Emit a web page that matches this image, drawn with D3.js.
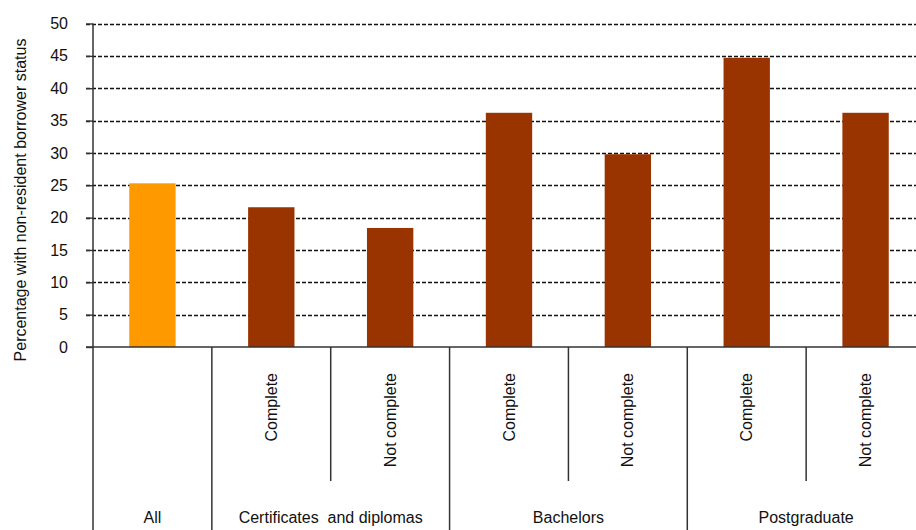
<!DOCTYPE html>
<html>
<head>
<meta charset="utf-8">
<script src="https://cdn.jsdelivr.net/npm/d3@7"></script>
<style>
  html, body { margin: 0; padding: 0; background: #fff; }
  svg { display: block; font-family: "Liberation Sans", Arial, sans-serif; }
</style>
</head>
<body>
<svg id="chart" width="916" height="530"></svg>
<script>
// ---- data ----
const subLabels = ["", "Complete", "Not complete", "Complete", "Not complete", "Complete", "Not complete"];
const groupNames = ["All", "Certificates  and diplomas", "Bachelors", "Postgraduate"];
const groupSpans = [1, 2, 2, 2];
const values = [25.3, 21.6, 18.4, 36.2, 29.8, 44.7, 36.2];
const barColors = ["#FF9900", "#993300", "#993300", "#993300", "#993300", "#993300", "#993300"];
const yTicks = [0, 5, 10, 15, 20, 25, 30, 35, 40, 45, 50];
const yTitle = "Percentage with non-resident borrower status";

(function () {
// ---- layout ----
const svg = d3.select("#chart");
const left = 93, right = 925, plotTop = 23.5, base = 347;
const subSepBottom = 481, groupSepBottom = 530;

const x = d3.scaleBand().domain(d3.range(values.length)).range([left, right]).padding(0);
const y = d3.scaleLinear().domain([0, 50]).range([base, plotTop]);
const barW = x.bandwidth() * 0.39;

// grid lines
svg.append("g").selectAll("line").data(yTicks.filter(d => d > 0)).join("line")
  .attr("x1", left - 7).attr("x2", right)
  .attr("y1", d => Math.round(y(d)) + 0.5).attr("y2", d => Math.round(y(d)) + 0.5)
  .attr("stroke", "#111").attr("stroke-width", 1.4).attr("stroke-dasharray", "4,2");

// bars
svg.append("g").selectAll("rect").data(values).join("rect")
  .attr("x", (d, i) => x(i) + (x.bandwidth() - barW) / 2)
  .attr("width", barW)
  .attr("y", d => y(d))
  .attr("height", d => y(0) - y(d))
  .attr("fill", (d, i) => barColors[i]);

// y axis
const yAxis = d3.axisLeft(y).tickValues(yTicks).tickSize(7).tickPadding(18);
const ga = svg.append("g").attr("transform", `translate(${left},0)`).call(yAxis);
ga.select(".domain").remove();
ga.selectAll(".tick line").attr("stroke", "#333").attr("stroke-width", 1.4);
ga.selectAll(".tick text").attr("font-size", 16).attr("fill", "#111")
  .attr("font-family", "'Liberation Sans', Arial, sans-serif");

// axis lines
svg.append("line").attr("x1", left).attr("x2", left).attr("y1", plotTop).attr("y2", groupSepBottom)
  .attr("stroke", "#333").attr("stroke-width", 1.5);
svg.append("line").attr("x1", left - 7).attr("x2", right).attr("y1", base).attr("y2", base)
  .attr("stroke", "#333").attr("stroke-width", 1.5);

// separators
let idx = 0;
const groupStarts = [];
groupSpans.forEach(s => { groupStarts.push(idx); idx += s; });
const seps = [];
for (let i = 1; i < values.length; i++) {
  seps.push({ pos: x(i), major: groupStarts.includes(i) });
}
svg.append("g").selectAll("line").data(seps).join("line")
  .attr("x1", d => d.pos).attr("x2", d => d.pos)
  .attr("y1", base).attr("y2", d => d.major ? groupSepBottom : subSepBottom)
  .attr("stroke", "#333").attr("stroke-width", 1.5);

// sub labels (rotated)
svg.append("g").selectAll("text").data(subLabels.map((t, i) => ({ t, i })).filter(d => d.t)).join("text")
  .attr("transform", d => `translate(${x(d.i) + x.bandwidth() / 2},373) rotate(-90)`)
  .attr("text-anchor", "end").attr("dy", "0.35em")
  .attr("font-size", 16).attr("fill", "#111")
  .text(d => d.t);

// group labels
svg.append("g").selectAll("text").data(groupNames.map((g, k) => ({ g, k }))).join("text")
  .attr("x", d => {
    const s = groupStarts[d.k], e = s + groupSpans[d.k];
    return (x(s) + x(e - 1) + x.bandwidth()) / 2;
  })
  .attr("y", 523)
  .attr("text-anchor", "middle")
  .attr("font-size", 16).attr("fill", "#111")
  .style("white-space", "pre")
  .text(d => d.g);

// y title
svg.append("text")
  .attr("transform", "translate(20,200) rotate(-90)")
  .attr("text-anchor", "middle").attr("dy", "0.35em")
  .attr("font-size", 16).attr("fill", "#111")
  .text(yTitle);
})();
</script>
</body>
</html>
